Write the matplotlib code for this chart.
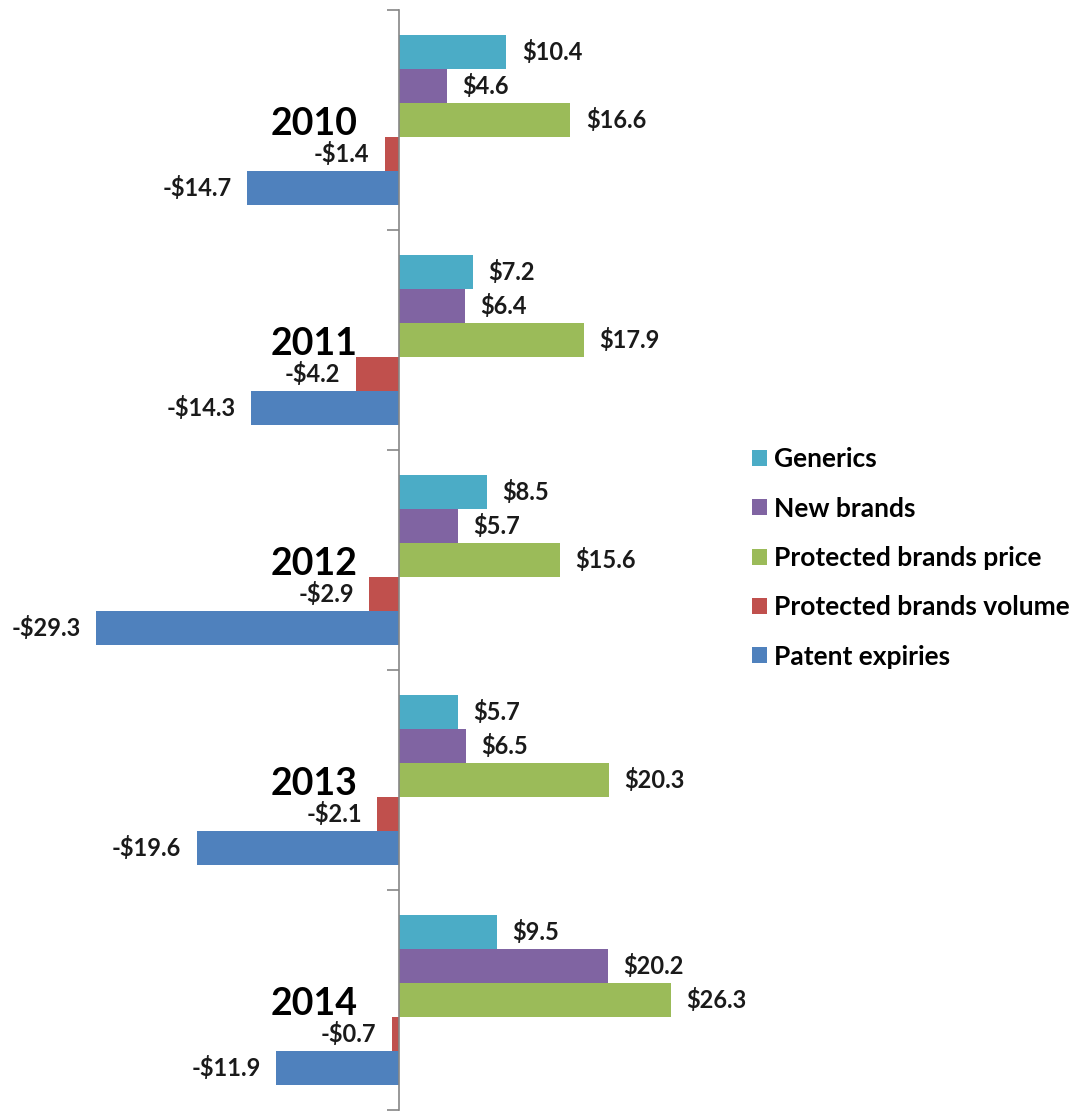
import numpy as np
import matplotlib
matplotlib.use('Agg')
import matplotlib.pyplot as plt
from matplotlib.patches import Patch

years = ['2010', '2011', '2012', '2013', '2014']
series = ['Generics', 'New brands', 'Protected brands price',
          'Protected brands volume', 'Patent expiries']
generics = [10.4, 7.2, 8.5, 5.7, 9.5]
new_brands = [4.6, 6.4, 5.7, 6.5, 20.2]
protected_price = [16.6, 17.9, 15.6, 20.3, 26.3]
protected_volume = [-1.4, -4.2, -2.9, -2.1, -0.7]
patent_expiries = [-14.7, -14.3, -29.3, -19.6, -11.9]

values = [generics, new_brands, protected_price, protected_volume, patent_expiries]
colors = ['#4BACC6', '#8064A2', '#9BBB59', '#C0504D', '#4F81BD']

plt.rcParams['font.family'] = ['Lato', 'DejaVu Sans']

fig = plt.figure(figsize=(10.89, 11.13), dpi=100)
ax = fig.add_axes([0, 3 / 1113, 1, 1100 / 1113])

y = np.arange(len(years))
w = 0.155
handles = []
for i, (name, vals, c) in enumerate(zip(series, values, colors)):
    bars = ax.barh(y + (i - 2) * w, vals, height=w, color=c, label=name)
    labels = [('-$%.1f' % abs(v)) if v < 0 else ('$%.1f' % v) for v in vals]
    ax.bar_label(bars, labels=labels, padding=11, fontsize=17, fontweight='bold',
                 color='#1a1a1a')
    handles.append(Patch(facecolor=c, label=name))

# year labels to the left of the axis
for yi, yr in zip(y, years):
    ax.text(-4.0, yi + 0.02, yr, ha='right', va='center', fontsize=27,
            fontweight='bold', color='black')

ax.set_xlim(-399 / 10.33, (1089 - 399) / 10.33)
ax.set_ylim(4.5, -0.5)

for s in ['top', 'right', 'bottom']:
    ax.spines[s].set_visible(False)
ax.spines['left'].set_position(('data', 0))
ax.spines['left'].set_color('#868686')
ax.spines['left'].set_linewidth(1.2)
ax.set_yticks(np.arange(-0.5, 5, 1))
ax.set_yticklabels([])
ax.tick_params(axis='y', length=9, color='#868686', width=1.2, direction='out')
ax.set_xticks([])

fig.legend(handles=handles, loc='center left',
           bbox_to_anchor=(752 / 1089, 1 - 558 / 1113),
           bbox_transform=fig.transFigure, frameon=False,
           prop={'weight': 'bold', 'size': 19},
           handlelength=0.55, handleheight=0.55, handletextpad=0.3,
           labelspacing=0.96, borderpad=0, borderaxespad=0)

fig.savefig('out.png', dpi=100, facecolor='white')
